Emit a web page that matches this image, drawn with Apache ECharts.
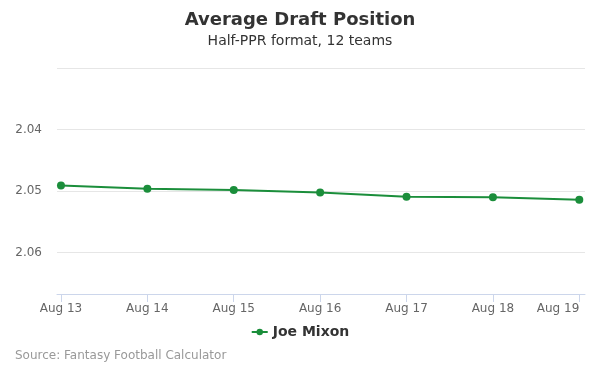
<!DOCTYPE html>
<html>
<head>
<meta charset="utf-8">
<script src="https://cdn.jsdelivr.net/npm/echarts@6/dist/echarts.min.js"></script>
<style>
  html, body { margin: 0; padding: 0; background: #fff; }
  #adp-chart { width: 600px; height: 375px; }
</style>
</head>
<body>
<div id="adp-chart"></div>
<script>
// values
const CATEGORIES = ['Aug 13', 'Aug 14', 'Aug 15', 'Aug 16', 'Aug 17', 'Aug 18', 'Aug 19'];
const JOE_MIXON_ADP = [2.0491, 2.0496, 2.0498, 2.0502, 2.0509, 2.0510, 2.0514];
const Y_TICK_LABELS = [2.04, 2.05, 2.06];

const LINE_COLOR = '#1b8e3b';
const FONT = '"DejaVu Sans", sans-serif';

let adp_chart = echarts.init(document.getElementById('adp-chart'));

let chart_options = {
    animation: false,
    title: [
        {
            text: 'Average Draft Position',
            left: 'center',
            top: 6,
            textStyle: { fontFamily: FONT, fontSize: 18, fontWeight: 'bold', color: '#333' }
        },
        {
            text: 'Half-PPR format, 12 teams',
            left: 'center',
            top: 29,
            textStyle: { fontFamily: FONT, fontSize: 14, fontWeight: 'normal', color: '#333' }
        },
        {
            text: 'Source: Fantasy Football Calculator',
            left: 10,
            top: 345,
            textStyle: { fontFamily: FONT, fontSize: 12, fontWeight: 'normal', color: '#999' }
        }
    ],
    legend: {
        bottom: 31,
        left: 'center',
        itemWidth: 16,
        itemHeight: 8,
        textStyle: { fontFamily: FONT, fontSize: 14, fontWeight: 'bold', color: '#333' },
        data: ['Joe Mixon']
    },
    grid: { left: 57, right: 15, top: 68, bottom: 81, containLabel: false, outerBoundsMode: 'none' },
    xAxis: {
        type: 'value',
        min: -0.046,
        max: 6.066,
        axisLine: { show: true, lineStyle: { color: '#ccd6eb' } },
        axisTick: {
            show: true,
            length: 8,
            customValues: CATEGORIES.map((c, i) => i),
            lineStyle: { color: '#ccd6eb' }
        },
        axisLabel: {
            customValues: CATEGORIES.map((c, i) => i),
            formatter: v => CATEGORIES[Math.round(v)],
            color: '#666',
            fontFamily: FONT,
            fontSize: 12,
            margin: 9,
            alignMaxLabel: 'right'
        },
        splitLine: { show: false }
    },
    yAxis: {
        type: 'value',
        inverse: true,
        min: 2.03,
        max: 2.0667,
        interval: 0.01,
        axisLine: { show: false },
        axisTick: { show: false },
        axisLabel: {
            customValues: Y_TICK_LABELS,
            formatter: v => v.toFixed(2),
            color: '#666',
            fontFamily: FONT,
            fontSize: 12,
            margin: 15
        },
        splitLine: { show: true, lineStyle: { color: '#e6e6e6' } }
    },
    series: [
        {
            name: 'Joe Mixon',
            type: 'line',
            color: LINE_COLOR,
            symbol: 'circle',
            symbolSize: 8,
            lineStyle: { width: 2 },
            data: JOE_MIXON_ADP.map((v, i) => [i, v])
        }
    ]
};

adp_chart.setOption(chart_options);
</script>
</body>
</html>
